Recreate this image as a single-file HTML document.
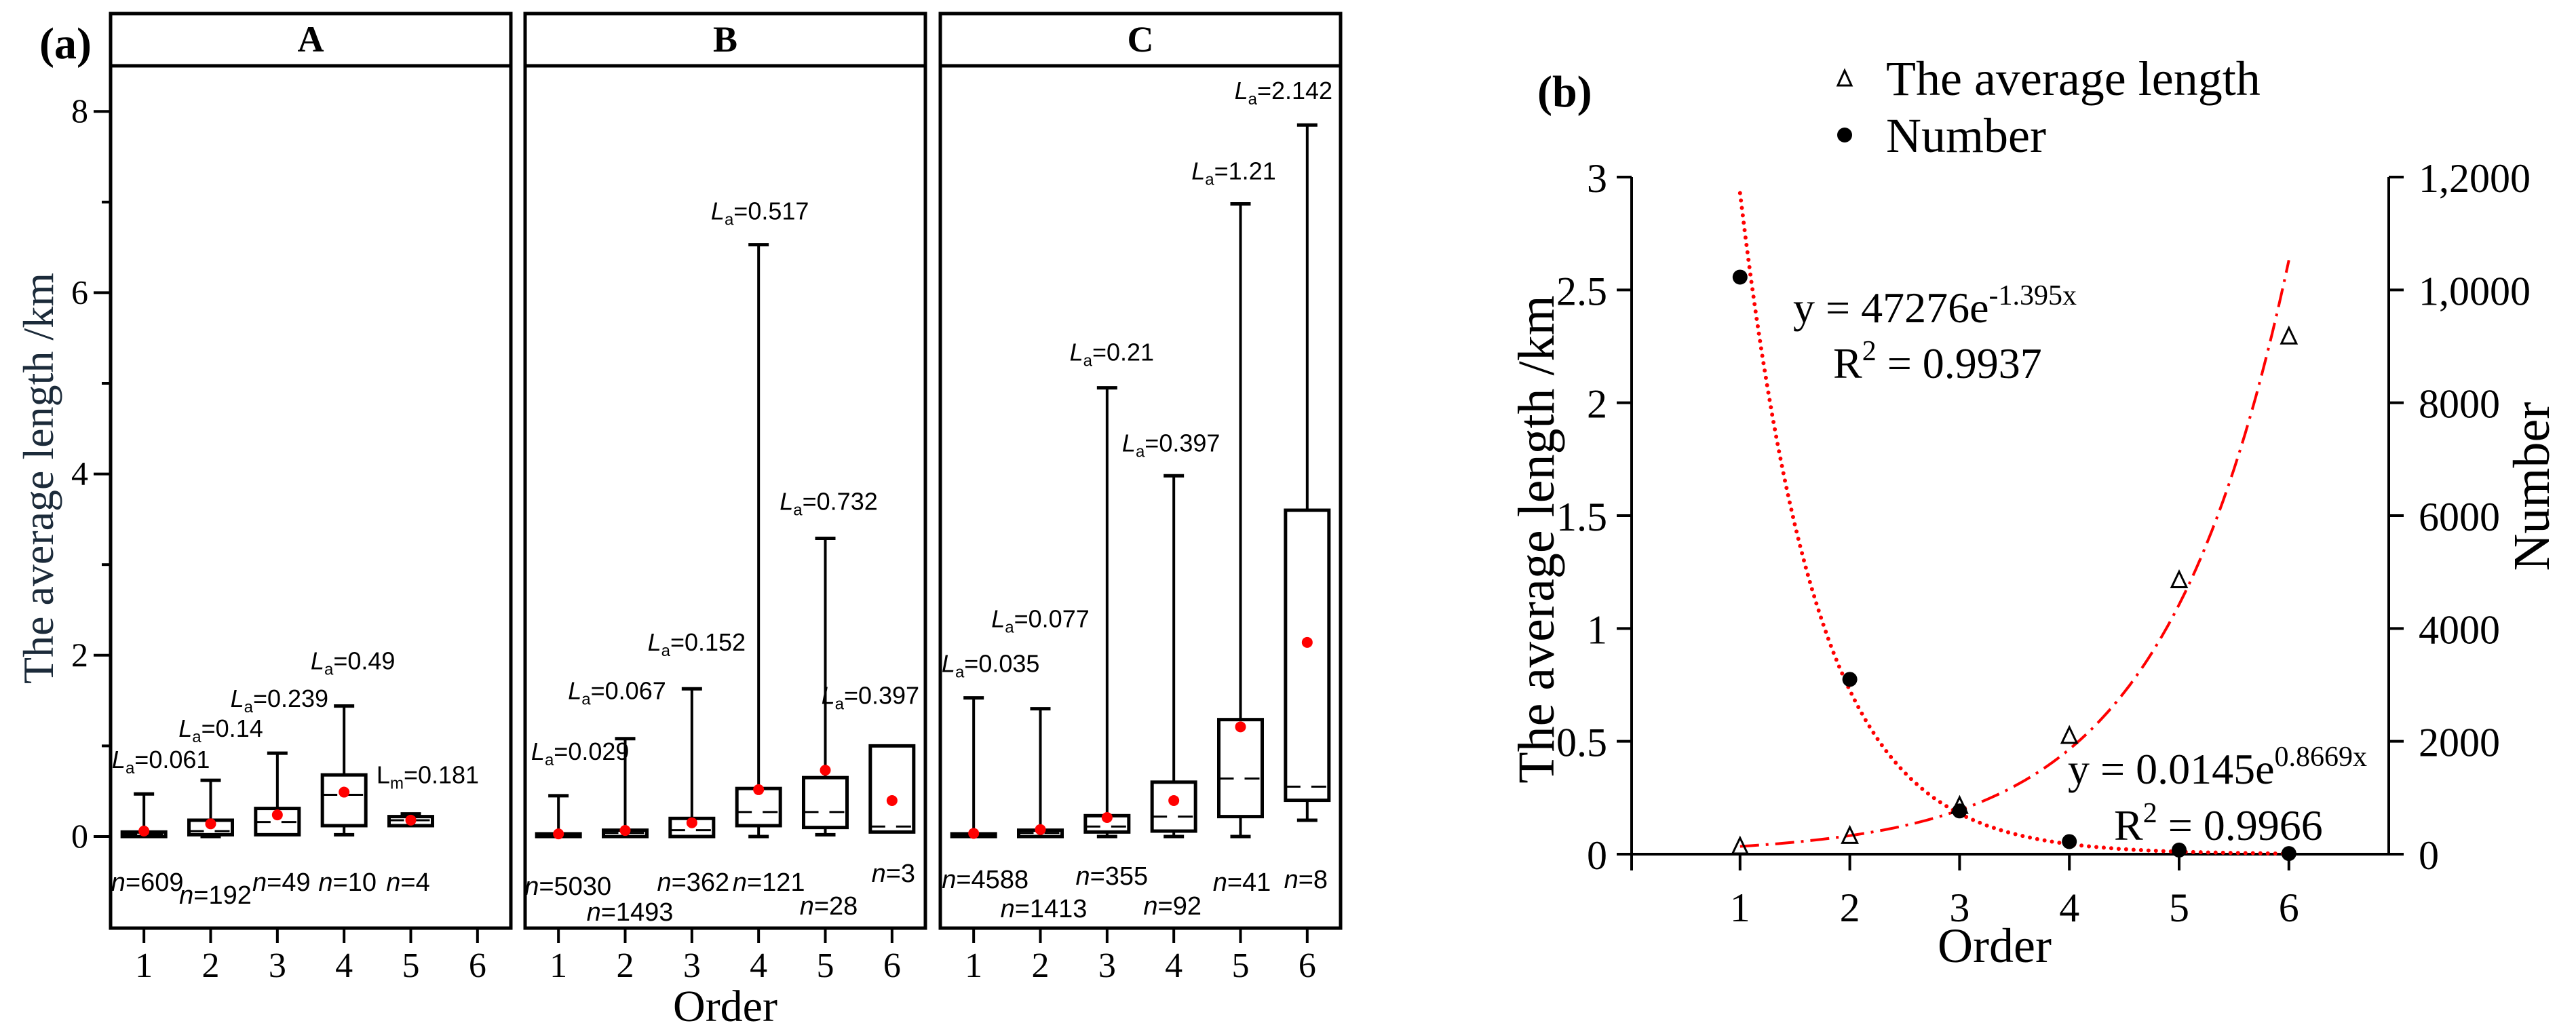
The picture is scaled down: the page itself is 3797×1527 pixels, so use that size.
<!DOCTYPE html>
<html><head><meta charset="utf-8"><style>
html,body{margin:0;padding:0;background:#fff;}
svg{display:block;}
.serif{font-family:"Liberation Serif",serif;}
.sans{font-family:"Liberation Sans",sans-serif;}
</style></head>
<body>
<svg id="fig" width="3797" height="1527" viewBox="0 0 3797 1527" xmlns="http://www.w3.org/2000/svg">
<g id="pa"></g>
<g id="pb"></g>
</svg>
<script>
const NS="http://www.w3.org/2000/svg";
// ---- Panel (a) data ----
const orders=[1,2,3,4,5,6];
const panelNames=["A","B","C"];
// each box: [order, whiskerLow, q1, median, q3, whiskerHigh, mean]
const boxesA=[[1,0,0,0.03,0.05,0.47,0.061],[2,0,0.02,0.06,0.18,0.62,0.14],[3,0.02,0.02,0.16,0.31,0.92,0.239],[4,0.02,0.12,0.46,0.68,1.44,0.49],[5,0.12,0.12,0.18,0.22,0.25,0.181]];
const boxesB=[[1,0,0,0.01,0.03,0.45,0.029],[2,0,0,0.04,0.07,1.08,0.067],[3,0,0,0.07,0.2,1.63,0.152],[4,0,0.12,0.27,0.53,6.53,0.517],[5,0.02,0.1,0.27,0.65,3.29,0.732],[6,0.05,0.05,0.11,1.0,1.0,0.397]];
const boxesC=[[1,0,0,0.01,0.03,1.53,0.035],[2,0,0,0.04,0.07,1.41,0.077],[3,0,0.05,0.11,0.23,4.95,0.21],[4,0,0.06,0.22,0.6,3.98,0.397],[5,0,0.22,0.64,1.29,6.98,1.21],[6,0.18,0.4,0.55,3.6,7.85,2.142]];
const meanLabelsA=["0.061","0.14","0.239","0.49","0.181"];
const meanLabelsB=["0.029","0.067","0.152","0.517","0.732","0.397"];
const meanLabelsC=["0.035","0.077","0.21","0.397","1.21","2.142"];
const nA=["609","192","49","10","4"];
const nB=["5030","1493","362","121","28","3"];
const nC=["4588","1413","355","92","41","8"];
const yTicksA=[0,2,4,6,8];
// ---- Panel (b) data ----
const avgLength=[0.03,0.077,0.21,0.52,1.21,2.29];
const numberVals=[10227,3098,766,223,73,11];
const fitNum=[47276,-1.395];
const fitLen=[0.0145,0.8669];
const leftTicks=[0,0.5,1,1.5,2,2.5,3];
const leftTickLabels=["0","0.5","1","1.5","2","2.5","3"];
const rightTicks=[0,2000,4000,6000,8000,10000,12000];
const rightTickLabels=["0","2000","4000","6000","8000","1,0000","1,2000"];

function el(tag,attrs,parent,txt){const e=document.createElementNS(NS,tag);for(const k in attrs)e.setAttribute(k,attrs[k]);if(txt!==undefined)e.textContent=txt;parent.appendChild(e);return e;}

// ---------- Panel (a) ----------
const pa=document.getElementById('pa');
const PL=[163,774,1386], PW=590, PTOP=20, STRIP=97, PBOT=1368;
const y0=1233, yUnit=133.6;
const ya=v=>y0-v*yUnit;
const xa=(p,o)=>PL[p]+(o-0.5)/6*PW;
const lbl=el('text',{x:58,y:86,'font-size':66,'font-weight':'bold',class:'serif'},pa,'(a)');

const yt=el('text',{x:0,y:0,'font-size':64,class:'serif','text-anchor':'middle',fill:'#1c2b3a',transform:'translate(78,705) rotate(-90)'},pa,'The average length /km');

for(let v=0;v<=8;v++){
  const major=v%2===0;
  const t=el('line',{x1:major?138:150,x2:PL[0],y1:ya(v),y2:ya(v),stroke:'#000','stroke-width':4},pa);
  
}
yTicksA.forEach(v=>{const t=el('text',{x:130,y:ya(v)+16,'font-size':50,class:'serif','text-anchor':'end'},pa,String(v));
 });
const allBoxes=[boxesA,boxesB,boxesC], allMeans=[meanLabelsA,meanLabelsB,meanLabelsC], allN=[nA,nB,nC];
const labOff=[[25,15,3,13,25],[32,-12,7,2,5,-32],[25,0,7,-4,-10,-35]];
const labDy=[[-38,-64,-68,-54,-45],[-53,-58,-56,-37,-42,-62],[-38,-120,-40,-36,-36,-38]];
const nOff=[[5,7,6,5,-4],[14,7,2,15,5,2],[17,5,7,-2,2,-2]];
const nY=[[1283,1302,1283,1283,1283],[1289,1327,1283,1283,1318,1270],[1279,1322,1274,1318,1283,1279]];
for(let p=0;p<3;p++){
  const L=PL[p];
  const fr=el('rect',{x:L,y:PTOP,width:PW,height:PBOT-PTOP,fill:'none',stroke:'#000','stroke-width':5},pa);
  
  const sl=el('line',{x1:L,x2:L+PW,y1:STRIP,y2:STRIP,stroke:'#000','stroke-width':5},pa);
  
  const st=el('text',{x:L+PW/2,y:76,'font-size':54,'font-weight':'bold',class:'serif','text-anchor':'middle'},pa,panelNames[p]);
  
  orders.forEach(o=>{
    const tk=el('line',{x1:xa(p,o),x2:xa(p,o),y1:PBOT,y2:PBOT+22,stroke:'#000','stroke-width':4},pa);
    
    const tl=el('text',{x:xa(p,o),y:1440,'font-size':52,class:'serif','text-anchor':'middle'},pa,String(o));
    
  });
  allBoxes[p].forEach((b,i)=>{
    const [o,wl,q1,md,q3,wh,mn]=b; const cx=xa(p,o); const hw=32, cw=15;
    const g=el('g',{},pa);
    
    if(wh>q3){el('line',{x1:cx,x2:cx,y1:ya(wh),y2:ya(q3),stroke:'#000','stroke-width':4},g);
      el('line',{x1:cx-cw,x2:cx+cw,y1:ya(wh),y2:ya(wh),stroke:'#000','stroke-width':5},g);}
    if(wl<q1){el('line',{x1:cx,x2:cx,y1:ya(q1),y2:ya(wl),stroke:'#000','stroke-width':4},g);
      el('line',{x1:cx-cw,x2:cx+cw,y1:ya(wl),y2:ya(wl),stroke:'#000','stroke-width':5},g);}
    el('rect',{x:cx-hw,y:ya(q3),width:2*hw,height:Math.max(ya(q1)-ya(q3),3),fill:'#fff',stroke:'#000','stroke-width':5},g);
    el('line',{x1:cx-hw,x2:cx+hw,y1:ya(md),y2:ya(md),stroke:'#000','stroke-width':3,'stroke-dasharray':'22 16'},g);
    const m=el('circle',{cx:cx,cy:ya(mn),r:8,fill:'#f00'},pa);
    
    const isM=(p===0&&i===4);
    const t=el('text',{x:cx+labOff[p][i],y:ya(wh)+labDy[p][i],'font-size':36,class:'sans','text-anchor':'middle'},pa);
    
    el('tspan',{'font-style':isM?'normal':'italic'},t,'L');
    el('tspan',{'font-size':24,dy:8},t,isM?'m':'a');
    el('tspan',{dy:-8},t,'='+allMeans[p][i]);
    const nt=el('text',{x:cx+nOff[p][i],y:nY[p][i]+30,'font-size':38,class:'sans','text-anchor':'middle'},pa);
    
    el('tspan',{'font-style':'italic'},nt,'n');
    el('tspan',{},nt,'='+allN[p][i]);
  });
}
const xo=el('text',{x:PL[1]+PW/2,y:1505,'font-size':66,class:'serif','text-anchor':'middle'},pa,'Order');


// ---------- Panel (b) ----------
const pb=document.getElementById('pb');
const AX0=2405, AX1=3521, AY0=1259, AY1=261, OX=161.8, OX0=2403;
const xb=o=>OX0+o*OX;
const yl=v=>AY0-(v/3)*(AY0-AY1);
const yr=v=>AY0-(v/12000)*(AY0-AY1);
const bl=el('text',{x:2266,y:157,'font-size':66,'font-weight':'bold',class:'serif'},pb,'(b)');

const ax=el('path',{d:`M${AX0},${AY1} V${AY0+24} M${AX0-10},${AY0} H${AX1+10} M${AX1},${AY1} V${AY0}`,stroke:'#000','stroke-width':4,fill:'none'},pb);

leftTicks.forEach((v,i)=>{
  const t=el('line',{x1:AX0-22,x2:AX0,y1:yl(v),y2:yl(v),stroke:'#000','stroke-width':4},pb);
  
  const l=el('text',{x:AX0-36,y:yl(v)+22,'font-size':60,class:'serif','text-anchor':'end'},pb,leftTickLabels[i]);
  
});
rightTicks.forEach((v,i)=>{
  const t=el('line',{x1:AX1,x2:AX1+22,y1:yr(v),y2:yr(v),stroke:'#000','stroke-width':4},pb);
  
  const l=el('text',{x:AX1+44,y:yr(v)+22,'font-size':60,class:'serif'},pb,rightTickLabels[i]);
  
});
orders.forEach(o=>{
  const t=el('line',{x1:xb(o),x2:xb(o),y1:AY0,y2:AY0+24,stroke:'#000','stroke-width':4},pb);
  
  const l=el('text',{x:xb(o),y:1358,'font-size':60,class:'serif','text-anchor':'middle'},pb,String(o));
  
});
const bx=el('text',{x:2940,y:1418,'font-size':72,class:'serif','text-anchor':'middle'},pb,'Order');

const byl=el('text',{x:0,y:0,'font-size':76,class:'serif','text-anchor':'middle',transform:'translate(2290,795) rotate(-90)'},pb,'The average length /km');

const byr=el('text',{x:0,y:0,'font-size':76,class:'serif','text-anchor':'middle',transform:'translate(3757,717) rotate(-90)'},pb,'Number');

let dN='',dL='';
for(let k=0;k<=100;k++){const o=1+5*k/100;
  dN+=(k?'L':'M')+xb(o).toFixed(1)+','+yr(fitNum[0]*Math.exp(fitNum[1]*o)).toFixed(1);
  dL+=(k?'L':'M')+xb(o).toFixed(1)+','+yl(fitLen[0]*Math.exp(fitLen[1]*o)).toFixed(1);}
const cN=el('path',{d:dN,fill:'none',stroke:'#f00','stroke-width':6,'stroke-dasharray':'0 11','stroke-linecap':'round'},pb);

const cL=el('path',{d:dL,fill:'none',stroke:'#f00','stroke-width':4,'stroke-dasharray':'28 10 4 10'},pb);

avgLength.forEach((v,i)=>{const x=xb(orders[i]),y=yl(v);
  const t=el('path',{d:`M${x},${y-14} L${x+11},${y+9} L${x-11},${y+9} Z`,fill:'none',stroke:'#000','stroke-width':3},pb);
  });
numberVals.forEach((v,i)=>{
  const c=el('circle',{cx:xb(orders[i]),cy:yr(v),r:11,fill:'#000'},pb);
  });
const lg=el('g',{},pb);
el('path',{d:'M2719,104 L2729,126 L2709,126 Z',fill:'none',stroke:'#000','stroke-width':3},lg);
el('text',{x:2780,y:140,'font-size':72,class:'serif'},lg,'The average length');
el('circle',{cx:2719,cy:199,r:11,fill:'#000'},lg);
el('text',{x:2780,y:224,'font-size':72,class:'serif'},lg,'Number');
function eq(x,y,base,sup,name){const t=el('text',{x:x,y:y,'font-size':64,class:'serif'},pb);
  
  el('tspan',{},t,base);el('tspan',{'font-size':42,dy:-26},t,sup);return t;}
eq(2643,475,'y = 47276e','-1.395x','number-fit-equation');
eq(2702,557,'R','2','number-fit-r2').appendChild((()=>{const s=document.createElementNS(NS,'tspan');s.setAttribute('dy',26);s.textContent=' = 0.9937';return s;})());
eq(3048,1155,'y = 0.0145e','0.8669x','length-fit-equation');
eq(3116,1238,'R','2','length-fit-r2').appendChild((()=>{const s=document.createElementNS(NS,'tspan');s.setAttribute('dy',26);s.textContent=' = 0.9966';return s;})());
</script>
</body></html>
